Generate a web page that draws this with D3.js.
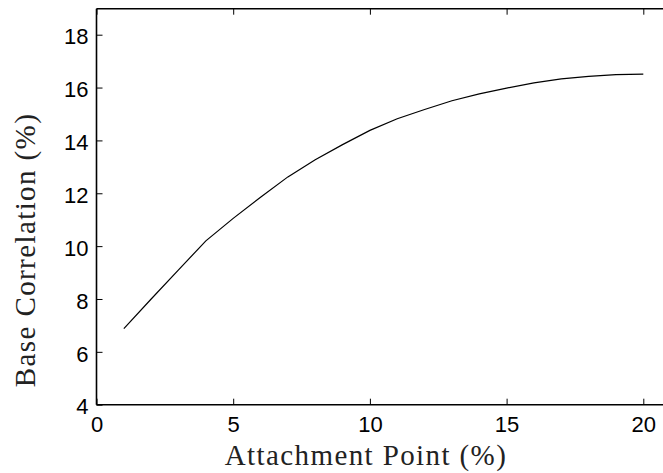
<!DOCTYPE html>
<html>
<head>
<meta charset="utf-8">
<script src="https://cdn.jsdelivr.net/npm/d3@7"></script>
<style>
  body { margin: 0; background: #fff; }
  .tick text { font-family: "Liberation Sans", Arial, sans-serif; font-size: 22px; fill: #000; }
  .lbl { font-family: "Liberation Serif", "DejaVu Serif", serif; font-size: 29px; letter-spacing: 1.4px; fill: #222; }
</style>
</head>
<body>
<div id="viz-container"></div>
<script>
// attachment point (%) and base correlation (%)
let attach = [1, 2, 3, 4, 5, 6, 7, 8, 9, 10, 11, 12, 13, 14, 15, 16, 17, 18, 19, 20];
let baseCorr = [6.88, 8.0, 9.1, 10.2, 11.05, 11.85, 12.62, 13.27, 13.84, 14.38,
                14.82, 15.17, 15.5, 15.76, 15.98, 16.18, 16.33, 16.42, 16.49, 16.51];
let xTicks = [0, 5, 10, 15, 20];
let yTicks = [4, 6, 8, 10, 12, 14, 16, 18];

let W = 663, H = 473;
let padLeft = 96.5, padTop = 8.7, padBottom = 404.7;

let viz = d3.select("#viz-container")
              .append("svg")
                .attr("width", W)
                .attr("height", H)
;

let x = d3.scaleLinear().domain([0, 20]).range([padLeft, 643.3]);
let y = d3.scaleLinear().domain([4, 18]).range([padBottom, 34.7]);

// axes (box only on top/left/bottom, right edge is cut off)
let xAxis = viz.append("g")
  .attr("transform", "translate(0," + padBottom + ")")
  .call(d3.axisBottom(x).tickValues(xTicks).tickFormat(d3.format("d")).tickSizeInner(-6).tickSizeOuter(0).tickPadding(8));
xAxis.select(".domain").attr("d", "M" + padLeft + ",0H" + W);

let xTop = viz.append("g")
  .attr("transform", "translate(0," + padTop + ")")
  .call(d3.axisTop(x).tickValues(xTicks).tickFormat("").tickSizeInner(-6).tickSizeOuter(0));
xTop.select(".domain").attr("d", "M" + padLeft + ",0H" + W);

let yAxis = viz.append("g")
  .attr("transform", "translate(" + padLeft + ",0)")
  .call(d3.axisLeft(y).tickValues(yTicks).tickFormat(d3.format("d")).tickSizeInner(-6).tickSizeOuter(0).tickPadding(8));
yAxis.select(".domain").attr("d", "M0," + padTop + "V" + padBottom);

viz.selectAll(".domain").attr("stroke", "#000").attr("stroke-width", 1.6);
viz.selectAll(".tick line").attr("stroke", "#000").attr("stroke-width", 1);
yAxis.selectAll(".tick text").attr("dy", "0.42em");
xAxis.selectAll(".tick text").attr("dy", "0.9em");

// the curve
let line = d3.line()
  .x(function(d, i){ return x(attach[i]); })
  .y(function(d){ return y(d); });

viz.append("path")
  .datum(baseCorr)
  .attr("d", line)
  .attr("fill", "none")
  .attr("stroke", "#000")
  .attr("stroke-width", 1.2);

// labels
viz.append("text")
  .attr("class", "lbl")
  .attr("x", 366)
  .attr("y", 465)
  .attr("text-anchor", "middle")
  .text("Attachment Point (%)");

viz.append("text")
  .attr("class", "lbl")
  .attr("transform", "translate(35,250) rotate(-90)")
  .attr("text-anchor", "middle")
  .text("Base Correlation (%)");
</script>
</body>
</html>
